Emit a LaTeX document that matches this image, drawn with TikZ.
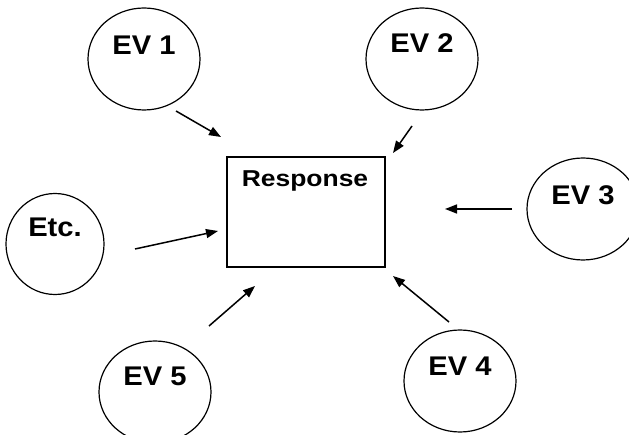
\documentclass[tikz,border=0pt]{standalone}
\usepackage{fontspec}
\setmainfont{Liberation Sans}
\usetikzlibrary{shapes.geometric,arrows.meta}
\tikzset{
  ev/.style={ellipse,draw,line width=1.2pt,minimum width=112pt,minimum height=102pt,inner sep=0pt},
  evtext/.style={anchor=base,inner sep=0pt,font=\fontsize{27}{27}\selectfont\bfseries,xscale=1.08},
  resptext/.style={anchor=base,inner sep=0pt,font=\fontsize{23}{23}\selectfont\bfseries,xscale=1.15},
  box/.style={draw,line width=1.3pt},
  arr/.style={line width=1.5pt,-{Triangle[length=12pt,width=9pt]}}
}
\begin{document}
\begin{tikzpicture}[x=1pt,y=-1pt]
\useasboundingbox (0,0) rectangle (629,435);
\clip (0,0) rectangle (629,435);
% circles
\node[ev] (ev1) at (144,59) {};
\node[ev] (ev2) at (422,59) {};
\node[ev] (ev3) at (583,209) {};
\node[ev,minimum width=98pt,minimum height=101pt] (etc) at (55,244) {};
\node[ev] (ev5) at (155,392) {};
\node[ev] (ev4) at (460,381) {};
% labels
\node[evtext] (t1) at ([yshift=4pt]ev1.center) {EV 1};
\node[evtext] (t2) at ([yshift=6pt]ev2.center) {EV 2};
\node[evtext] (t3) at ([yshift=4pt]ev3.center) {EV 3};
\node[evtext] (tetc) at ([yshift=7pt]etc.center) {Etc.};
\node[evtext] (t5) at ([yshift=7pt]ev5.center) {EV 5};
\node[evtext] (t4) at ([yshift=6pt]ev4.center) {EV 4};
% response box
\node[box,minimum width=158pt,minimum height=110pt,inner sep=0pt] (resp) at (306,212) {};
\node[resptext] (rt) at (305,187) {Response};
% arrow endpoints
\coordinate (a1s) at (176,111); \coordinate (a1e) at (221,137);
\coordinate (a2s) at (412,126); \coordinate (a2e) at (393,153);
\coordinate (a3s) at (512,209); \coordinate (a3e) at (445,209);
\coordinate (a6s) at (135,249); \coordinate (a6e) at (218,231);
\coordinate (a5s) at (209,326); \coordinate (a5e) at (255,286);
\coordinate (a4s) at (449,322); \coordinate (a4e) at (393,276);
\draw[arr] (a1s) -- (a1e);
\draw[arr] (a2s) -- (a2e);
\draw[arr] (a3s) -- (a3e);
\draw[arr] (a6s) -- (a6e);
\draw[arr] (a5s) -- (a5e);
\draw[arr] (a4s) -- (a4e);
\end{tikzpicture}
\end{document}
